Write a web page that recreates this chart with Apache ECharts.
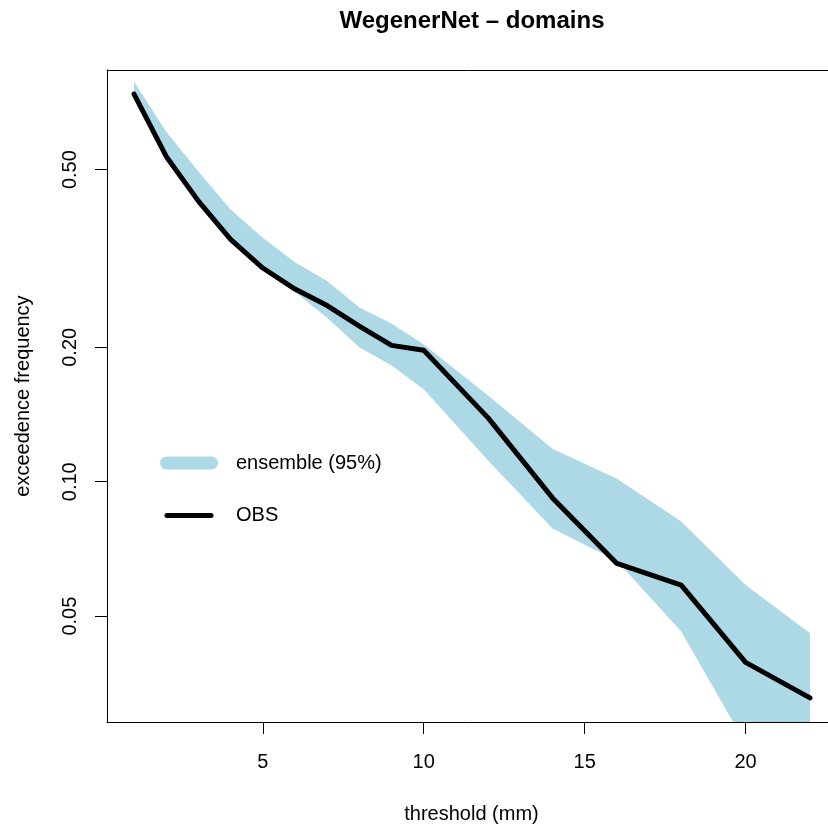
<!DOCTYPE html>
<html>
<head>
<meta charset="utf-8">
<script src="https://cdn.jsdelivr.net/npm/echarts@6.0.0/dist/echarts.min.js"></script>
<style>
	html,body{margin:0;padding:0;background:#fff;}
	#chart{width:828px;height:829px;}
</style>
</head>
<body>
<div id="chart"></div>
<script>
// threshold (mm)
var thresholds = [1, 2, 3, 4, 5, 6, 7, 8, 9, 10, 12, 14, 16, 18, 20, 22];
// observed exceedence frequency
var obsFreq = [0.738, 0.535, 0.425, 0.349, 0.301, 0.270, 0.248, 0.223, 0.202, 0.197, 0.139, 0.092, 0.0656, 0.0587, 0.0394, 0.0328];
// ensemble 95% band
var ensUpper = [0.786, 0.608, 0.495, 0.407, 0.352, 0.310, 0.2815, 0.2455, 0.226, 0.203, 0.156, 0.1185, 0.1016, 0.0815, 0.0587, 0.0458];
var ensLower = [0.728, 0.528, 0.419, 0.344, 0.297, 0.266, 0.233, 0.200, 0.182, 0.161, 0.1116, 0.0786, 0.0665, 0.0462, 0.0259, 0.022];
var xTicks = [5, 10, 15, 20];
var yTicks = [0.05, 0.1, 0.2, 0.5];

var FONT = "'Liberation Sans', Arial, Helvetica, sans-serif";
var BAND = '#ADD8E6';

var bandData = thresholds.map(function(x, i){ return [x, ensLower[i], ensUpper[i]]; });
var obsData = thresholds.map(function(x, i){ return [x, obsFreq[i]]; });

// the band is one polygon: upper edge left->right, lower edge right->left
function renderBand(params, api){
	if (params.dataIndex !== 0) return;
	var n = bandData.length;
	var pts = [];
	for (var i = 0; i < n; i++) {
		pts.push(api.coord([bandData[i][0], bandData[i][2]]));
	}
	for (var j = n - 1; j >= 0; j--) {
		pts.push(api.coord([bandData[j][0], bandData[j][1]]));
	}
	var cs = params.coordSys;
	return {
		type: 'polygon',
		shape: {points: pts},
		style: {fill: BAND},
		clipPath: {type: 'rect', shape: {x: cs.x, y: cs.y, width: cs.width, height: cs.height}}
	};
}

var myChart = echarts.init(document.getElementById('chart'), null, {renderer: 'canvas'});
var option = {
	backgroundColor: '#fff',
	animation: false,
	title: {
		text: 'WegenerNet \u2013 domains',
		left: 472,
		top: 9,
		padding: 0,
		textAlign: 'center',
		textStyle: {fontFamily: FONT, fontSize: 24, fontWeight: 'bold', color: '#000', lineHeight: 24}
	},
	// plot box runs past the right edge of the picture, so no right border
	grid: {
		left: 107,
		top: 70,
		width: 721,
		height: 654,
		show: false,
		containLabel: false
	},
	legend: {
		orient: 'vertical',
		left: 160,
		top: 453,
		padding: 0,
		itemGap: 32.5,
		itemWidth: 58,
		itemHeight: 13,
		selectedMode: false,
		itemStyle: {borderWidth: 0},
		textStyle: {fontFamily: FONT, fontSize: 20, color: '#000', lineHeight: 20, padding: [0, 0, 0, 13]},
		data: [
			{
				name: 'ensemble (95%)',
				icon: 'path://M6.5,0 H51.5 A6.5,6.5 0 0 1 51.5,13 H6.5 A6.5,6.5 0 0 1 6.5,0 Z',
				itemStyle: {color: BAND}
			},
			{
				name: 'OBS',
				icon: 'path://M0,0 L0,0 M58,13 L58,13 M7,4 H51 A2.5,2.5 0 0 1 51,9 H7 A2.5,2.5 0 0 1 7,4 Z',
				itemStyle: {color: '#000'}
			}
		]
	},
	xAxis: [
		{
			type: 'value',
			position: 'bottom',
			min: 0.16,
			max: 22.56,
			name: 'threshold (mm)',
			nameLocation: 'middle',
			nameGap: 82,
			nameTextStyle: {fontFamily: FONT, fontSize: 20, color: '#000', padding: [0, 0, 0, 8]},
			splitLine: {show: false},
			axisLine: {show: true, onZero: false, lineStyle: {color: '#000', width: 1}},
			axisTick: {show: true, length: 12, customValues: xTicks, lineStyle: {color: '#000'}},
			axisLabel: {customValues: xTicks, margin: 30, fontFamily: FONT, fontSize: 20, color: '#000'}
		},
		{
			// top side of the box
			type: 'value',
			position: 'top',
			min: 0.16,
			max: 22.56,
			splitLine: {show: false},
			axisLine: {show: true, onZero: false, lineStyle: {color: '#000', width: 1}},
			axisTick: {show: false},
			axisLabel: {show: false}
		}
	],
	yAxis: {
		type: 'log',
		logBase: 10,
		min: 0.02897,
		max: 0.8356,
		name: 'exceedence frequency',
		nameLocation: 'middle',
		nameRotate: 90,
		nameGap: 74,
		nameTextStyle: {fontFamily: FONT, fontSize: 20, color: '#000'},
		splitLine: {show: false},
		minorTick: {show: false},
		axisLine: {show: true, lineStyle: {color: '#000', width: 1}},
		axisTick: {show: true, length: 12, customValues: yTicks, lineStyle: {color: '#000'}},
		axisLabel: {
			customValues: yTicks,
			rotate: 90,
			margin: 27,
			fontFamily: FONT,
			fontSize: 20,
			color: '#000',
			formatter: function(v){ return Number(v).toFixed(2); }
		}
	},
	series: [
		{
			name: 'ensemble (95%)',
			type: 'custom',
			data: bandData,
			encode: {x: 0, y: [1, 2]},
			renderItem: renderBand,
			silent: true,
			itemStyle: {color: BAND},
			z: 1
		},
		{
			name: 'OBS',
			type: 'line',
			data: obsData,
			symbol: 'none',
			itemStyle: {color: '#000'},
			lineStyle: {color: '#000', width: 5, join: 'round', cap: 'round'},
			z: 3
		}
	]
};
myChart.setOption(option);
</script>
</body>
</html>
